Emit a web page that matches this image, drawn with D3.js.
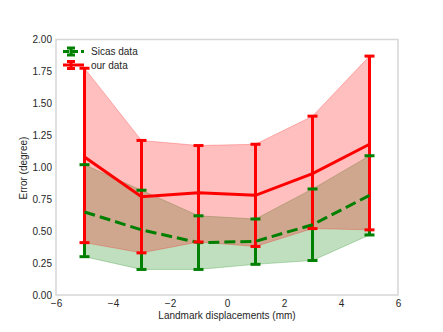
<!DOCTYPE html>
<html><head><meta charset="utf-8">
<script src="https://cdn.jsdelivr.net/npm/d3@7"></script>
<style>body{margin:0;background:#fff}svg{display:block}text{font-family:"Liberation Sans",Arial,sans-serif;fill:#262626}</style>
</head><body>
<script>
const displacements = [-5, -3, -1, 1, 3, 5];
const sicasMean  = [0.65, 0.51, 0.41, 0.42, 0.55, 0.78];
const sicasUpper = [1.02, 0.82, 0.62, 0.595, 0.83, 1.09];
const sicasLower = [0.30, 0.20, 0.20, 0.24, 0.27, 0.47];
const ourMean  = [1.08, 0.77, 0.80, 0.78, 0.95, 1.18];
const ourUpper = [1.775, 1.21, 1.17, 1.18, 1.40, 1.87];
const ourLower = [0.41, 0.33, 0.415, 0.38, 0.52, 0.51];
const xTicks = [-6, -4, -2, 0, 2, 4, 6];
const yTicks = [0, 0.25, 0.5, 0.75, 1, 1.25, 1.5, 1.75, 2];
const seriesNames = ["Sicas data", "our data"];

const W = 443, H = 332;
const svg = d3.select("body").append("svg").attr("width", W).attr("height", H);
const x = d3.scaleLinear().domain([-6, 6]).range([56, 398]);
const y = d3.scaleLinear().domain([0, 2]).range([295, 39.5]);

const minus = s => String(s).replace("-", "\u2212");

function band(mean, lo, hi) { return displacements.map((d, i) => ({x: d, m: mean[i], lo: lo[i], hi: hi[i]})); }
const sicas = band(sicasMean, sicasLower, sicasUpper);
const ours = band(ourMean, ourLower, ourUpper);
const GREEN = "#008000", RED = "#ff0000";

const area = d3.area().x(d => x(d.x)).y0(d => y(d.lo)).y1(d => y(d.hi));
svg.append("path").datum(sicas).attr("d", area).attr("fill", GREEN).attr("fill-opacity", 0.25)
  .attr("stroke", GREEN).attr("stroke-opacity", 0.25).attr("stroke-width", 1);
svg.append("path").datum(ours).attr("d", area).attr("fill", RED).attr("fill-opacity", 0.25)
  .attr("stroke", RED).attr("stroke-opacity", 0.25).attr("stroke-width", 1);

// frame
svg.append("rect").attr("x", x(-6)).attr("y", y(2)).attr("width", x(6) - x(-6)).attr("height", y(0) - y(2))
  .attr("fill", "none").attr("stroke", "#d6d6d6").attr("stroke-width", 1.5);

const line = d3.line().x(d => x(d.x)).y(d => y(d.m));
function verticals(data, color) {
  svg.append("g").selectAll("line").data(data).join("line")
    .attr("x1", d => x(d.x)).attr("x2", d => x(d.x)).attr("y1", d => y(d.lo)).attr("y2", d => y(d.hi))
    .attr("stroke", color).attr("stroke-width", 3);
}
function caps(data, color) {
  const g = svg.append("g");
  ["lo", "hi"].forEach(k => {
    g.selectAll("line." + k).data(data).join("line").attr("class", k)
      .attr("x1", d => x(d.x) - 5).attr("x2", d => x(d.x) + 5).attr("y1", d => y(d[k])).attr("y2", d => y(d[k]))
      .attr("stroke", color).attr("stroke-width", 3);
  });
}
verticals(sicas, GREEN);
verticals(ours, RED);
svg.append("path").datum(sicas).attr("d", line).attr("fill", "none").attr("stroke", GREEN)
  .attr("stroke-width", 3).attr("stroke-dasharray", "11,5");
svg.append("path").datum(ours).attr("d", line).attr("fill", "none").attr("stroke", RED).attr("stroke-width", 3);
caps(sicas, GREEN);
caps(ours, RED);

// axes
const xAxis = d3.axisBottom(x).tickValues(xTicks).tickSize(0).tickPadding(5).tickFormat(d => minus(d));
const gx = svg.append("g").attr("transform", `translate(0,${y(0)})`).call(xAxis);
gx.select(".domain").remove();
gx.selectAll("text").attr("font-size", 10).style("fill", "#262626");
const yAxis = d3.axisLeft(y).tickValues(yTicks).tickSize(0).tickPadding(4).tickFormat(d3.format(".2f"));
const gy = svg.append("g").attr("transform", `translate(${x(-6)},0)`).call(yAxis);
gy.select(".domain").remove();
gy.selectAll("text").attr("font-size", 10).style("fill", "#262626");

svg.append("text").attr("x", 227).attr("y", 319).attr("text-anchor", "middle").attr("font-size", 10)
  .text("Landmark displacements (mm)");
svg.append("text").attr("transform", "translate(27,168) rotate(-90)").attr("text-anchor", "middle").attr("font-size", 10)
  .text("Error (degree)");

// legend
const leg = [{name: seriesNames[0], color: GREEN, dash: "6,3", yc: 51.5}, {name: seriesNames[1], color: RED, dash: null, yc: 65}];
leg.forEach(l => {
  const g = svg.append("g");
  g.append("line").attr("x1", 63).attr("x2", 84).attr("y1", l.yc).attr("y2", l.yc).attr("stroke", l.color)
    .attr("stroke-width", 3).attr("stroke-dasharray", l.dash);
  g.append("line").attr("x1", 71).attr("x2", 71).attr("y1", l.yc - 3.5).attr("y2", l.yc + 3.5).attr("stroke", l.color).attr("stroke-width", 3);
  [-3.5, 3.5].forEach(o => g.append("line").attr("x1", 67).attr("x2", 75).attr("y1", l.yc + o).attr("y2", l.yc + o)
    .attr("stroke", l.color).attr("stroke-width", 3));
  g.append("text").attr("x", 91).attr("y", l.yc).attr("dy", "0.35em").attr("font-size", 10).text(l.name);
});
</script>
</body></html>
